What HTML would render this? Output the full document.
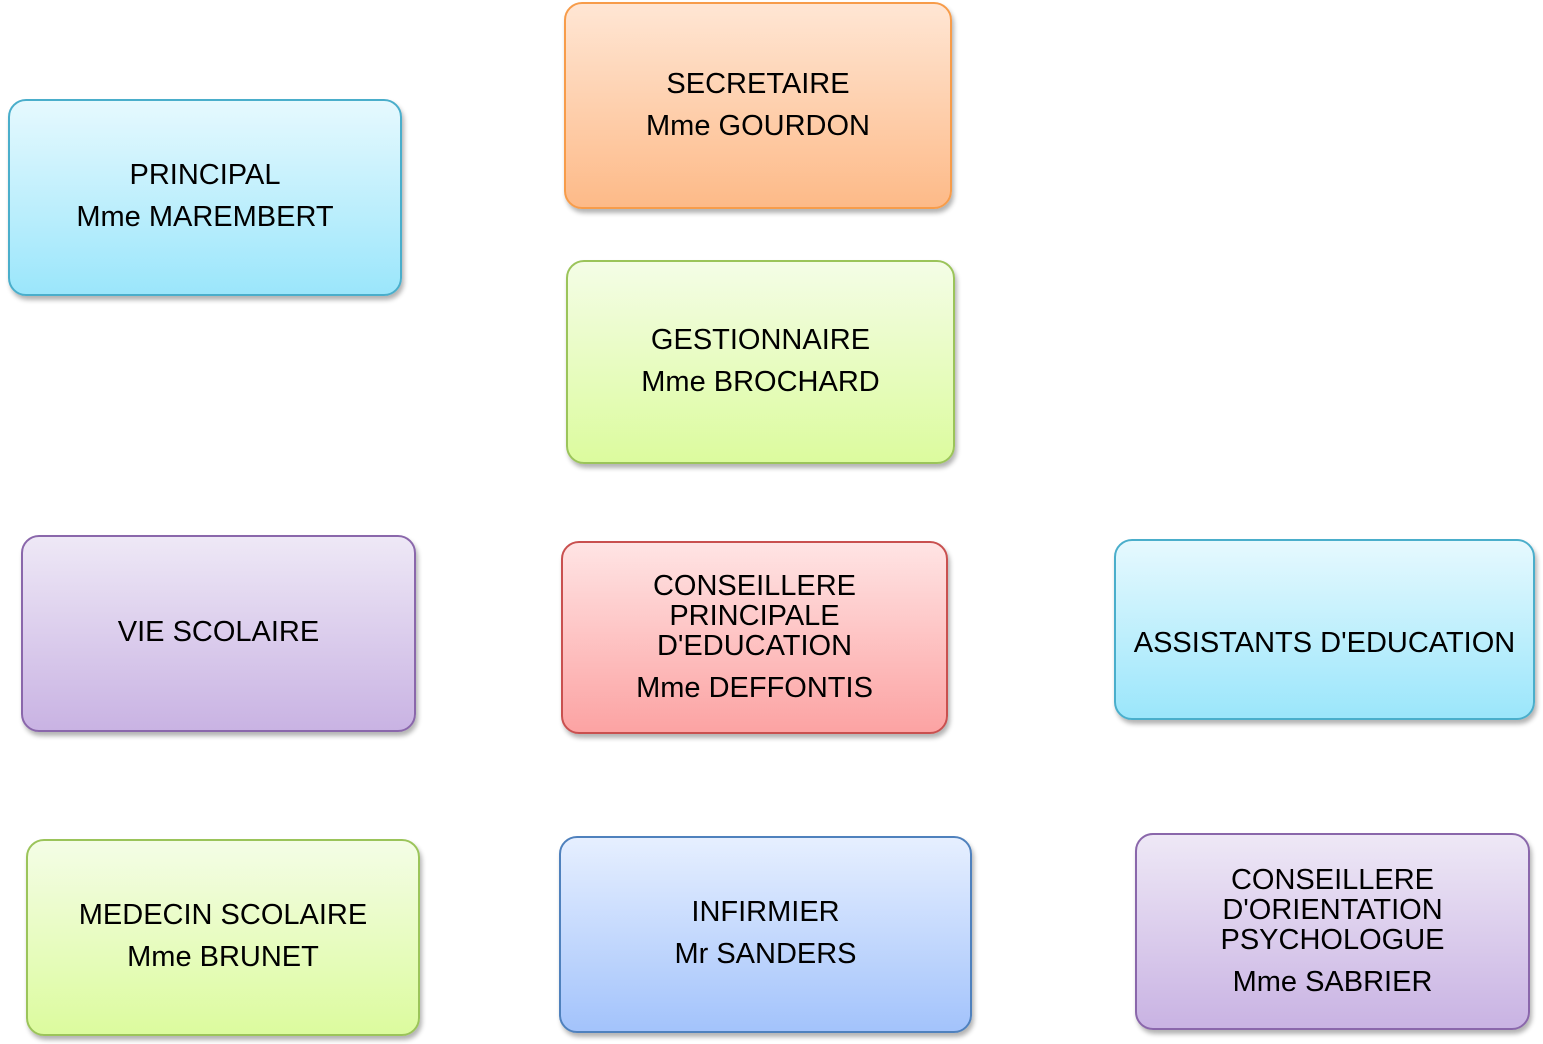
<!DOCTYPE html>
<html><head><meta charset="utf-8"><style>
html,body{margin:0;padding:0;background:#fff;width:1543px;height:1044px;overflow:hidden;position:relative;font-family:"Liberation Sans",Arial,sans-serif;}
.b{position:absolute;box-sizing:border-box;border:2px solid;border-radius:18px;box-shadow:2px 4px 5px rgba(0,0,0,0.3);}
.t{position:absolute;left:0;right:0;text-align:center;font-size:29px;line-height:30px;height:30px;color:#000;white-space:nowrap;}
.blue{background:linear-gradient(#e6f9fe,#9be6fb);border-color:#4aaecb;}
.orange{background:linear-gradient(#ffe6d4,#fdba88);border-color:#f79c4a;}
.green{background:linear-gradient(#f4fde6,#dcfb9e);border-color:#9bc45a;}
.purple{background:linear-gradient(#eee8f6,#c9b3e3);border-color:#8a67ab;}
.red{background:linear-gradient(#ffe4e4,#fca3a3);border-color:#c9504f;}
.peri{background:linear-gradient(#e6efff,#a3c3fb);border-color:#4f81bd;}
</style></head><body>
<div class="b blue" style="left:8px;top:99px;width:394px;height:197px"><div class="t" style="top:59px">PRINCIPAL</div><div class="t" style="top:101px">Mme MAREMBERT</div></div>
<div class="b orange" style="left:564px;top:2px;width:388px;height:207px"><div class="t" style="top:65px">SECRETAIRE</div><div class="t" style="top:107px">Mme GOURDON</div></div>
<div class="b green" style="left:566px;top:260px;width:389px;height:204px"><div class="t" style="top:63px">GESTIONNAIRE</div><div class="t" style="top:105px">Mme BROCHARD</div></div>
<div class="b purple" style="left:21px;top:535px;width:395px;height:197px"><div class="t" style="top:80px">VIE SCOLAIRE</div></div>
<div class="b red" style="left:561px;top:541px;width:387px;height:193px"><div class="t" style="top:28px">CONSEILLERE</div><div class="t" style="top:58px">PRINCIPALE</div><div class="t" style="top:88px">D'EDUCATION</div><div class="t" style="top:130px">Mme DEFFONTIS</div></div>
<div class="b blue" style="left:1114px;top:539px;width:421px;height:181px"><div class="t" style="top:87px">ASSISTANTS D'EDUCATION</div></div>
<div class="b green" style="left:26px;top:839px;width:394px;height:197px"><div class="t" style="top:59px">MEDECIN SCOLAIRE</div><div class="t" style="top:101px">Mme BRUNET</div></div>
<div class="b peri" style="left:559px;top:836px;width:413px;height:197px"><div class="t" style="top:59px">INFIRMIER</div><div class="t" style="top:101px">Mr SANDERS</div></div>
<div class="b purple" style="left:1135px;top:833px;width:395px;height:197px"><div class="t" style="top:30px">CONSEILLERE</div><div class="t" style="top:60px">D'ORIENTATION</div><div class="t" style="top:90px">PSYCHOLOGUE</div><div class="t" style="top:132px">Mme SABRIER</div></div>
</body></html>
